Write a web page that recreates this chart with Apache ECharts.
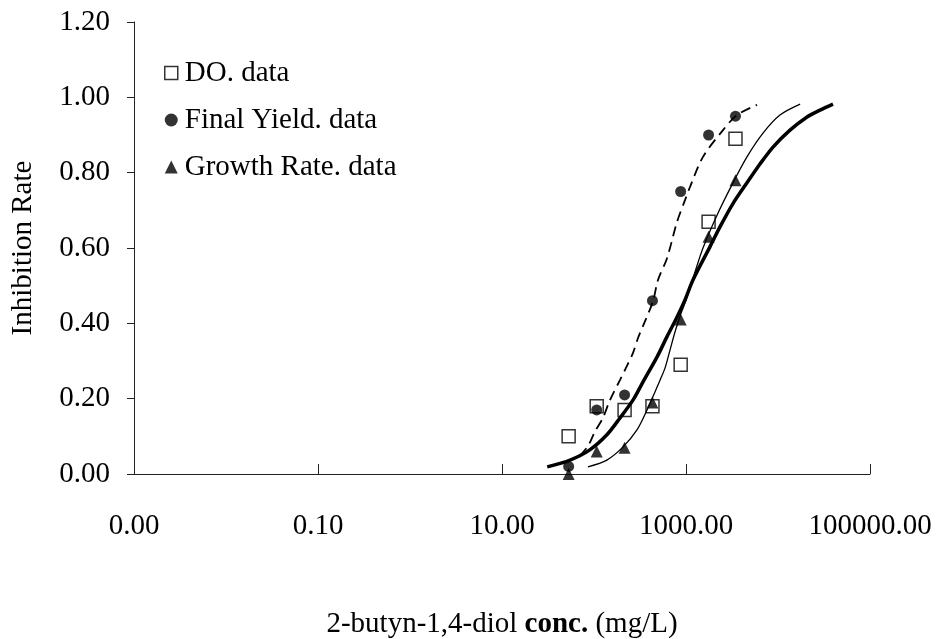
<!DOCTYPE html>
<html>
<head>
<meta charset="utf-8">
<title>Inhibition Rate</title>
<script src="https://cdn.jsdelivr.net/npm/echarts@6/dist/echarts.min.js"></script>
<style>
  html, body { margin: 0; padding: 0; background: #fff; }
  #chart { width: 936px; height: 639px; }
</style>
</head>
<body>
<div id="chart"></div>
<script>
// measured points (mg/L)
const conc = [53, 107, 215, 432, 875, 1760, 3450];
const doData = [0.10, 0.18, 0.17, 0.18, 0.29, 0.67, 0.89];
const yieldData = [0.02, 0.17, 0.21, 0.46, 0.75, 0.90, 0.95];
const growthData = [0.0, 0.06, 0.07, 0.19, 0.41, 0.63, 0.78];

// fitted curves
const thickX = [31, 55, 90, 138, 192, 265, 340, 485, 620, 800, 975, 1190, 1820, 2340, 3240, 4600, 6370, 8830, 13500, 20700, 28600, 39600];
const thickY = [0.019, 0.037, 0.064, 0.104, 0.149, 0.196, 0.244, 0.311, 0.364, 0.417, 0.462, 0.515, 0.603, 0.656, 0.718, 0.773, 0.823, 0.868, 0.913, 0.948, 0.966, 0.982];
const thinX = [86, 138, 207, 293, 377, 460, 522, 591, 670, 759, 861, 1000, 1222, 1530, 2230, 3240, 4600, 6870, 10500, 17400];
const thinY = [0.019, 0.037, 0.072, 0.117, 0.170, 0.218, 0.249, 0.281, 0.329, 0.377, 0.419, 0.462, 0.528, 0.600, 0.693, 0.773, 0.842, 0.905, 0.953, 0.982];
const dashX = [70, 86, 102, 125, 149, 192, 228, 265, 301, 358, 438, 496, 622, 798, 975, 1105, 1530, 2525, 3583, 5913];
const dashY = [0.048, 0.074, 0.112, 0.149, 0.196, 0.250, 0.287, 0.321, 0.361, 0.405, 0.459, 0.515, 0.573, 0.669, 0.727, 0.762, 0.842, 0.913, 0.953, 0.980];

const xTicks = [0.001, 0.1, 10, 1000, 100000];

const font = "'Liberation Serif', 'Times New Roman', serif";
const pairs = (xs, ys) => xs.map((x, i) => [x, ys[i]]);

const chart = echarts.init(document.getElementById('chart'), null, { renderer: 'canvas' });

const curve = (xs, ys, width, type) => ({
  type: 'line',
  data: pairs(xs, ys),
  showSymbol: false,
  symbol: 'none',
  smooth: 0.3,
  silent: true,
  z: 1,
  lineStyle: { color: '#000', width: width, type: type }
});

chart.setOption({
  animation: false,
  backgroundColor: '#fff',
  grid: { left: 134, right: 66, top: 22, bottom: 165, outerBoundsMode: 'none', containLabel: false },
  legend: {
    orient: 'vertical',
    left: 159,
    top: 53,
    itemWidth: 13,
    itemHeight: 13,
    itemGap: 17,
    textStyle: { fontFamily: font, fontSize: 29, color: '#000', lineHeight: 30, padding: [0, 0, 0, 2] },
    data: [
      { name: 'DO. data', icon: 'rect', itemStyle: { color: 'transparent', borderColor: '#000', borderWidth: 1.5 } },
      { name: 'Final Yield. data', icon: 'circle', itemStyle: { color: '#000', borderWidth: 0 } },
      { name: 'Growth Rate. data', icon: 'triangle', itemStyle: { color: '#000', borderWidth: 0 } }
    ]
  },
  xAxis: {
    type: 'log',
    logBase: 10,
    min: 0.001,
    max: 100000,
    name: '{a|2-butyn-1,4-diol }{b|conc.}{a| (mg/L)}',
    nameLocation: 'middle',
    nameGap: 136,
    nameTextStyle: {
      rich: {
        a: { fontFamily: font, fontSize: 29, color: '#000' },
        b: { fontFamily: font, fontSize: 29, color: '#000', fontWeight: 'bold' }
      }
    },
    axisLine: { show: true, lineStyle: { color: '#222', width: 1 } },
    axisTick: { show: true, inside: true, length: 10, customValues: xTicks, lineStyle: { color: '#222' } },
    axisLabel: {
      customValues: xTicks,
      margin: 38,
      fontFamily: font,
      fontSize: 29,
      color: '#000',
      formatter: v => Number(v).toFixed(2)
    },
    minorTick: { show: false },
    splitLine: { show: false }
  },
  yAxis: {
    type: 'value',
    min: 0,
    max: 1.2,
    interval: 0.2,
    name: 'Inhibition Rate',
    nameLocation: 'middle',
    nameGap: 96,
    nameTextStyle: { fontFamily: font, fontSize: 29, color: '#000' },
    axisLine: { show: true, lineStyle: { color: '#222', width: 1 } },
    axisTick: { show: true, inside: false, length: 7, lineStyle: { color: '#222' } },
    axisLabel: {
      margin: 24,
      fontFamily: font,
      fontSize: 29,
      color: '#000',
      formatter: v => v.toFixed(2)
    },
    splitLine: { show: false }
  },
  series: [
    curve(thickX, thickY, 3.5, 'solid'),
    curve(thinX, thinY, 1.3, 'solid'),
    curve(dashX, dashY, 1.8, [10, 6]),
    {
      name: 'DO. data',
      type: 'scatter',
      symbol: 'rect',
      symbolSize: 13,
      z: 3,
      itemStyle: { color: 'transparent', borderColor: '#000', borderWidth: 1.5 },
      data: pairs(conc, doData)
    },
    {
      name: 'Final Yield. data',
      type: 'scatter',
      symbol: 'circle',
      symbolSize: 11,
      z: 3,
      itemStyle: { color: '#000' },
      data: pairs(conc, yieldData)
    },
    {
      name: 'Growth Rate. data',
      type: 'scatter',
      symbol: 'triangle',
      symbolSize: 12,
      z: 3,
      itemStyle: { color: '#000' },
      data: pairs(conc, growthData)
    }
  ]
});

window.addEventListener('resize', () => chart.resize());
</script>
</body>
</html>
